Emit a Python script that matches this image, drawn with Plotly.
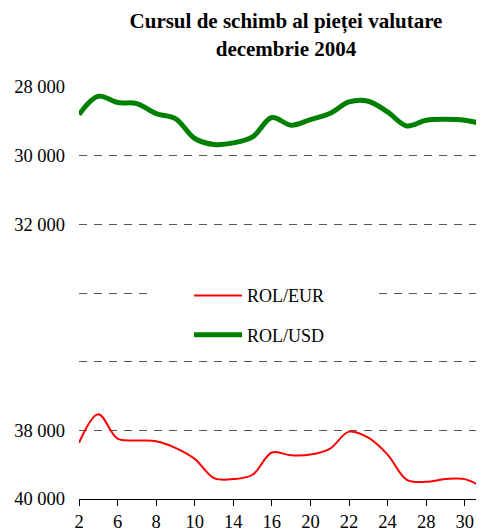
import plotly.graph_objects as go

days = ["2", "3", "6", "7", "8", "9", "10", "13", "14", "15", "16", "17",
        "20", "21", "22", "23", "24", "27", "28", "29", "30", "31"]
rol_eur = [38362, 37529, 38244, 38294, 38315, 38509, 38832, 39391, 39421, 39294,
           38647, 38726, 38706, 38538, 38038, 38215, 38706, 39441, 39500, 39421,
           39421, 39685]
rol_usd = [28802, 28270, 28453, 28483, 28773, 28919, 29500, 29674, 29628, 29453,
           28890, 29113, 28948, 28773, 28436, 28416, 28727, 29134, 28968, 28939,
           28968, 29084]
x_tick_days = ["2", "6", "8", "10", "14", "16", "20", "22", "24", "28", "30"]
y_tick_vals = [28000, 30000, 32000, 34000, 36000, 38000, 40000]
y_tick_text = ["28 000", "30 000", "32 000", "", "", "38 000", "40 000"]

FONT = "Liberation Serif, Times New Roman, serif"
NBSP = "&nbsp;"

fig = go.Figure()
fig.add_trace(go.Scatter(x=days, y=rol_eur, name="ROL/EUR", mode="lines",
                         line=dict(color="#ff0000", width=2, shape="spline"),
                         legendgroup="eur"))
fig.add_trace(go.Scatter(x=days, y=rol_usd, name="ROL/USD", mode="lines",
                         line=dict(color="#008000", width=5, shape="spline"),
                         legendgroup="usd"))

# the page body adds an 8px offset; the figure is sized to fit the 484x531 window
fig.update_layout(
    width=476, height=523,
    margin=dict(l=71, r=0, t=79, b=32),
    paper_bgcolor="white", plot_bgcolor="white",
    font=dict(family=FONT, size=18, color="black"),
    title=dict(text="<b>Cursul de schimb al pieței valutare<br>decembrie 2004</b>",
               x=0.584, xanchor="center", y=0.961, yanchor="top",
               font=dict(family=FONT, size=21, color="black")),
    showlegend=True,
    legend=dict(x=0.168, xanchor="left", y=0.595, yanchor="top",
                bgcolor="white", font=dict(family=FONT, size=18),
                title=dict(text=NBSP * 50, side="top", font=dict(size=18)),
                indentation=42,
                tracegroupgap=13, traceorder="grouped", itemwidth=48),
    xaxis=dict(type="category", range=[0, 21], tickvals=x_tick_days,
               ticktext=x_tick_days, showgrid=False, showline=True,
               linecolor="black", linewidth=1, ticks="outside", ticklen=6,
               tickcolor="black", tickfont=dict(family=FONT, size=18.5)),
    yaxis=dict(range=[40000, 28000], tickvals=y_tick_vals, ticktext=y_tick_text,
               showgrid=True, gridcolor="#555555", gridwidth=1, griddash="8px,7px",
               zeroline=False, showline=False, ticks="", ticklabelstandoff=13,
               tickfont=dict(family=FONT, size=18.5)),
)

fig.write_html("out.html")
